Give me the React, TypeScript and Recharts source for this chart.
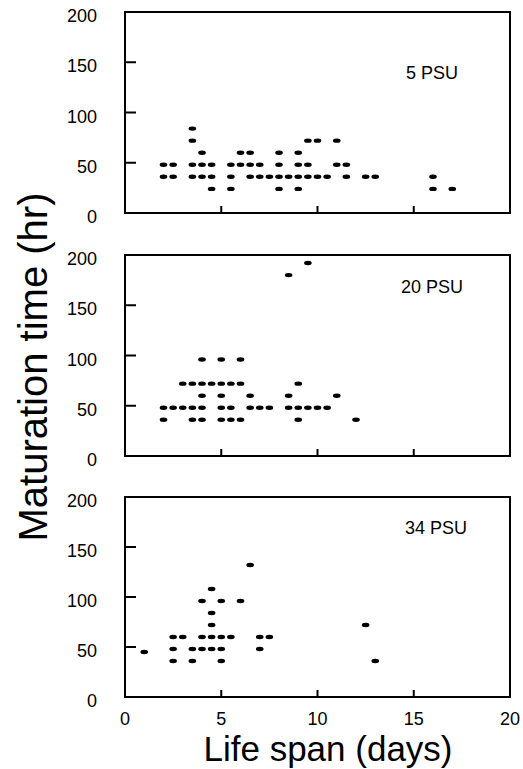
import { ScatterChart, Scatter, XAxis, YAxis, ReferenceArea } from "recharts";

const FONT = "'Liberation Sans', Arial, sans-serif";

const dayTicks = [0, 5, 10, 15, 20];
const hourTicks = [0, 50, 100, 150, 200];

// 5 PSU
const psu5Days = [
  2, 2, 2.5, 2.5, 3.5, 3.5, 3.5, 3.5, 4, 4, 4, 4.5, 4.5, 4.5, 5.5, 5.5, 5.5,
  6, 6, 6.5, 6.5, 6.5, 7, 7, 7.5, 8, 8, 8, 8, 8.5, 9, 9, 9, 9, 9.5, 9.5, 9.5,
  10, 10, 10.5, 11, 11, 11.5, 11.5, 12.5, 13, 16, 16, 17,
];
const psu5Hours = [
  48, 36, 48, 36, 84, 72, 48, 36, 60, 48, 36, 48, 36, 24, 48, 36, 24,
  60, 48, 60, 48, 36, 48, 36, 36, 60, 48, 36, 24, 36, 60, 48, 36, 24, 72, 48, 36,
  72, 36, 36, 72, 48, 48, 36, 36, 36, 36, 24, 24,
];

// 20 PSU
const psu20Days = [
  2, 2, 2.5, 3, 3, 3.5, 3.5, 3.5, 4, 4, 4, 4, 4, 4.5, 5, 5, 5, 5, 5,
  5.5, 5.5, 5.5, 6, 6, 6, 6.5, 6.5, 7, 7.5, 8.5, 8.5, 8.5, 9, 9, 9,
  9.5, 9.5, 10, 10.5, 11, 12,
];
const psu20Hours = [
  48, 36, 48, 72, 48, 72, 48, 36, 96, 72, 60, 48, 36, 72, 96, 72, 60, 48, 36,
  72, 48, 36, 96, 72, 36, 60, 48, 48, 48, 180, 60, 48, 72, 48, 36,
  192, 48, 48, 48, 60, 36,
];

// 34 PSU
const psu34Days = [
  1, 2.5, 2.5, 2.5, 3, 3.5, 3.5, 4, 4, 4, 4.5, 4.5, 4.5, 4.5, 4.5,
  5, 5, 5, 5, 5.5, 6, 6.5, 7, 7, 7.5, 12.5, 13,
];
const psu34Hours = [
  45, 60, 48, 36, 60, 48, 36, 96, 60, 48, 108, 84, 72, 60, 48,
  96, 60, 48, 36, 60, 96, 132, 60, 48, 60, 72, 36,
];

const HourTick = ({ x, y, payload }: any) => (
  <text x={x} y={y + 4} textAnchor="end" dominantBaseline="central" fontSize={18} fontFamily={FONT} fill="#000">
    {payload.value}
  </text>
);

const Dot = (p: any) => <ellipse cx={p.cx} cy={p.cy} rx={3.8} ry={2.2} fill="#000" />;

interface PanelProps {
  days: number[];
  hours: number[];
  top: number;
  height: number;
  marginTop: number;
  axisHeight: number;
  showDays?: boolean;
}

function Panel({ days, hours, top, height, marginTop, axisHeight, showDays }: PanelProps) {
  const data = days.map((d, i) => ({ day: d, hr: hours[i] }));
  return (
    <div style={{ position: "absolute", left: 0, top }}>
      <ScatterChart width={523} height={height} margin={{ top: marginTop, right: 13, bottom: 0, left: 0 }}>
        <XAxis
          type="number"
          dataKey="day"
          domain={[0, 20]}
          ticks={dayTicks}
          interval={0}
          height={axisHeight}
          axisLine={false}
          tickSize={-7}
          tickMargin={22}
          tickLine={{ stroke: "#000", strokeWidth: 2 }}
          tick={{ fontSize: 18, fill: "#000", fontFamily: FONT }}
          tickFormatter={showDays ? undefined : () => ""}
        />
        <YAxis
          type="number"
          dataKey="hr"
          domain={[0, 200]}
          ticks={hourTicks}
          interval={0}
          width={125}
          axisLine={false}
          tickSize={-11}
          tickMargin={39}
          tickLine={{ stroke: "#000", strokeWidth: 2 }}
          tick={<HourTick />}
        />
        <ReferenceArea x1={0} x2={20} y1={0} y2={200} fill="none" stroke="#000" strokeWidth={2} ifOverflow="visible" />
        <Scatter data={data} shape={Dot} isAnimationActive={false} />
      </ScatterChart>
    </div>
  );
}

export default function App() {
  return (
    <div style={{ position: "absolute", left: 0, top: 0, width: 523, height: 769, background: "#fff", fontFamily: FONT }}>
      <Panel days={psu5Days} hours={psu5Hours} top={0} height={230} marginTop={12} axisHeight={17} />
      <Panel days={psu20Days} hours={psu20Hours} top={240} height={230} marginTop={15} axisHeight={14} />
      <Panel days={psu34Days} hours={psu34Hours} top={485} height={284} marginTop={12} axisHeight={72} showDays />
      <svg width={523} height={769} style={{ position: "absolute", left: 0, top: 0, pointerEvents: "none" }}>
        <g fontFamily={FONT} fill="#000">
          <text x={458} y={79} textAnchor="end" fontSize={18}>5 PSU</text>
          <text x={463} y={293} textAnchor="end" fontSize={18}>20 PSU</text>
          <text x={467} y={534} textAnchor="end" fontSize={18}>34 PSU</text>
          <text x={328} y={761} textAnchor="middle" fontSize={35}>Life span (days)</text>
          <text transform="translate(47,367) rotate(-90)" textAnchor="middle" fontSize={40}>Maturation time (hr)</text>
        </g>
      </svg>
    </div>
  );
}
